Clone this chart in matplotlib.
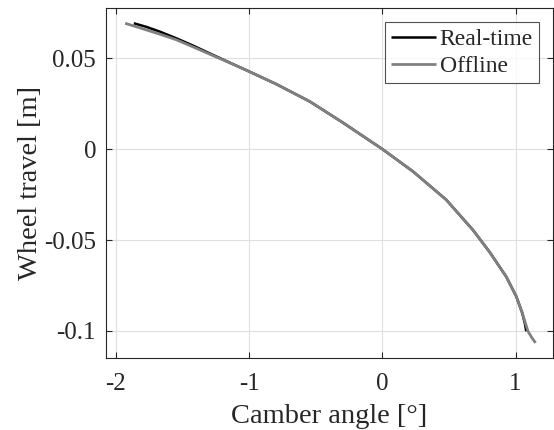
import matplotlib
matplotlib.use("Agg")
import matplotlib.pyplot as plt

plt.rcParams['font.family'] = ['Liberation Serif', 'DejaVu Serif']
plt.rcParams['axes.unicode_minus'] = False

# Data (camber angle [deg], wheel travel [m])
realtime_camber = [-1.865, -1.77, -1.67, -1.545, -1.42, -1.295, -1.15, -1.0, -0.795, -0.545, -0.295, 0.0,
                   0.23, 0.48, 0.68, 0.805, 0.93, 1.005, 1.05, 1.07, 1.08]
realtime_travel = [0.0692, 0.0672, 0.0646, 0.0609, 0.0569, 0.0526, 0.0477, 0.0427, 0.0357, 0.0262, 0.0145, 0.0,
                   -0.0123, -0.0279, -0.0445, -0.0566, -0.0702, -0.0810, -0.0901, -0.0960, -0.1002]

offline_camber = [-1.93, -1.795, -1.67, -1.545, -1.42, -1.295, -1.15, -1.0, -0.795, -0.545, -0.295, 0.0,
                  0.23, 0.48, 0.68, 0.805, 0.93, 1.005, 1.05, 1.075, 1.093, 1.12, 1.15]
offline_travel = [0.0692, 0.0661, 0.0632, 0.0601, 0.0562, 0.0522, 0.0476, 0.0427, 0.0357, 0.0262, 0.0145, 0.0,
                  -0.0123, -0.0279, -0.0445, -0.0566, -0.0702, -0.0810, -0.0901, -0.0960, -0.1002, -0.1035, -0.1066]

xticks = [-2, -1, 0, 1]
xticklabels = ['-2', '-1', '0', '1']
yticks = [-0.1, -0.05, 0, 0.05]
yticklabels = ['-0.1', '-0.05', '0', '0.05']

fig = plt.figure(figsize=(5.54, 4.30), dpi=100)
ax = fig.add_axes([0.191, 0.167, 0.807, 0.814])

ax.plot(realtime_camber, realtime_travel, color='black', lw=1.8, label='Real-time',
        solid_joinstyle='round', solid_capstyle='butt')
ax.plot(offline_camber, offline_travel, color='#808080', lw=2.0, label='Offline',
        solid_joinstyle='round', solid_capstyle='butt')

ax.set_xlim(-2.075, 1.28)
ax.set_ylim(-0.115, 0.0775)
ax.set_xticks(xticks)
ax.set_xticklabels(xticklabels)
ax.set_yticks(yticks)
ax.set_yticklabels(yticklabels)

ax.grid(True, color='#dfdfdf', lw=0.8)
ax.set_axisbelow(True)
for s in ax.spines.values():
    s.set_color('#262626')
    s.set_linewidth(0.8)
ax.tick_params(direction='in', length=4, width=0.8, top=True, right=True,
               labelsize=18, colors='#262626', labelcolor='#262626')
ax.tick_params(axis='x', pad=11)
ax.tick_params(axis='y', pad=7)

ax.set_xlabel('Camber angle [°]', fontsize=20.5, labelpad=6, color='#262626')
ax.set_ylabel('Wheel travel [m]', fontsize=20.5, labelpad=1, color='#262626')

leg = ax.legend(loc='upper right', fontsize=17, frameon=True, fancybox=False,
                edgecolor='#262626', handlelength=1.9, handletextpad=0.15,
                borderpad=0.25, labelspacing=0.25, borderaxespad=0.6)
leg.get_frame().set_linewidth(0.8)
for t in leg.get_texts():
    t.set_color('#262626')

fig.savefig('out.png', dpi=100)
